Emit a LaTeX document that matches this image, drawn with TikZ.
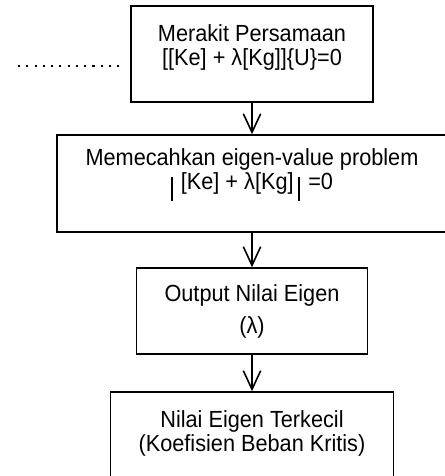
\documentclass[tikz,border=0pt]{standalone}
\usepackage{fontspec}
\setmainfont[FakeStretch=0.93]{Liberation Sans}
\usepackage{tikz}
\usetikzlibrary{arrows.meta, positioning}
\newcommand{\angkat}[1]{\rule[-#1]{0pt}{#1}}
\newcommand{\garis}{\rule[-8.5pt]{1.4pt}{17.8pt}}
\tikzset{
  kotak/.style={draw, line width=1.1pt, align=center, inner sep=0pt,
    font=\fontsize{17.5pt}{18pt}\selectfont},
  panah/.style={line width=1.2pt, -{Straight Barb[length=14pt,width=13pt]}},
  titik/.style={line width=1.6pt, dash pattern=on 1.6pt off 4.6pt}
}
\begin{document}
\begin{tikzpicture}[x=0.75pt, y=-0.75pt]
        \useasboundingbox (0,0) rectangle (444,476);
        % Kotak-kotak diagram alir
        \node[kotak, minimum width=181.5pt, minimum height=72pt] (merakit) at (252,54)
            {Merakit Persamaan\\ \relax[[Ke] + λ[Kg]]\{U\}=0\angkat{13.5pt}};
        \node[kotak, minimum width=292.5pt, minimum height=72.75pt] (memecahkan) at (252,183.5)
            {Memecahkan eigen-value problem\\ \garis\hspace{6pt}[Ke] + λ[Kg]\hspace{3.6pt}\garis\hspace{6pt}=0\angkat{21.6pt}};
        \node[kotak, minimum width=173.25pt, minimum height=64.5pt] (output) at (252,311)
            {Output Nilai Eigen\\[6pt] (λ)};
        \node[kotak, minimum width=212.25pt, minimum height=72pt] (terkecil) at (252,440)
            {Nilai Eigen Terkecil\\ (Koefisien Beban Kritis)\angkat{13.4pt}};
        % Panah antar kotak
        \draw[panah] (merakit.south) -- (memecahkan.north);
        \draw[panah] (memecahkan.south) -- (output.north);
        \draw[panah] (output.south) -- (terkecil.north);
        % Garis titik-titik ke kotak pertama
        \coordinate (awal) at (18,66);
        \draw[titik, shorten >=4pt] (awal) -- (awal -| merakit.west);
    \end{tikzpicture}
\end{document}
